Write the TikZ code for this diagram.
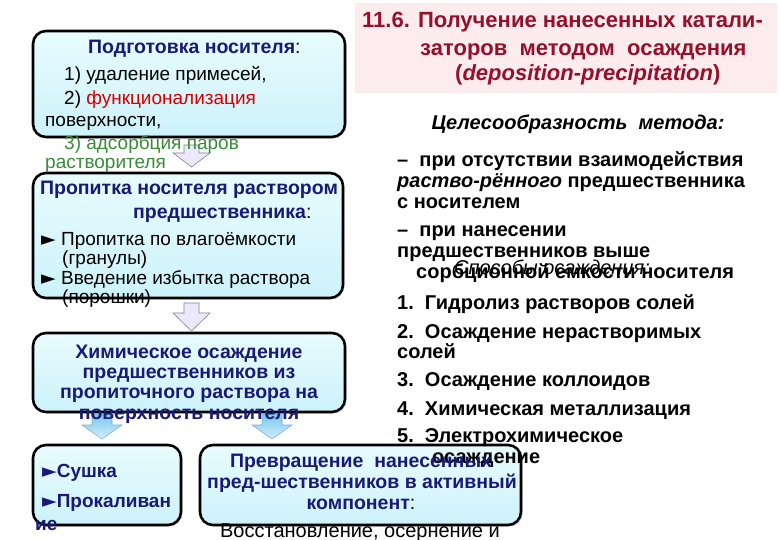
\documentclass[tikz,border=0pt]{standalone}
\usepackage{fontspec}
\setmainfont{Liberation Sans}
\usetikzlibrary{shadows}
\definecolor{navy}{RGB}{26,26,118}
\definecolor{titlered}{RGB}{150,16,44}
\definecolor{funcred}{RGB}{214,0,0}
\definecolor{adsgreen}{RGB}{56,140,56}
\definecolor{boxtop}{RGB}{232,252,254}
\definecolor{boxbot}{RGB}{204,242,250}
\definecolor{titlebg}{RGB}{253,236,237}
\definecolor{lav}{RGB}{236,232,250}
\definecolor{lavline}{RGB}{130,130,160}
\definecolor{bluetop}{RGB}{120,200,236}
\definecolor{bluebot}{RGB}{210,238,250}
\newfontfamily\symfont{DejaVu Sans}
\newcommand{\mkarrow}[7]{%
  \path[#7] (#1-#5,#2) -- (#1+#5,#2) -- (#1+#5,#3) -- (#1+#6,#3) -- (#1,#4)
     -- (#1-#6,#3) -- (#1-#5,#3) -- cycle;}
\newcommand{\bul}{{\symfont\fontsize{19}{20}\selectfont ►}}
\begin{document}
\begin{tikzpicture}[x=1pt,y=-1pt,
  box/.style={draw=black, line width=2.6pt, rounded corners=13pt,
     top color=boxtop, bottom color=boxbot, inner sep=0pt,
     drop shadow={opacity=0.25, shadow xshift=1.5pt, shadow yshift=-1.5pt}},
  lt/.style={anchor=base west, inner sep=0pt, font=\fontsize{19}{22}\selectfont},
  hd/.style={anchor=base, inner sep=0pt, text=navy, font=\fontsize{19.5}{22}\bfseries},
  hdw/.style={anchor=base west, inner sep=0pt, text=navy, font=\fontsize{19.5}{22}\bfseries},
  rt/.style={anchor=base west, inner sep=0pt, font=\fontsize{20}{23}\bfseries},
  tt/.style={anchor=base west, inner sep=0pt, text=titlered, font=\fontsize{22}{26}\bfseries},
  parr/.style={fill=lav, draw=lavline, line width=0.6pt},
  barr/.style={top color=bluetop, bottom color=bluebot, draw=bluetop!70!gray, line width=0.6pt}]
\useasboundingbox (0,0) rectangle (780,540);
\fill[white] (0,0) rectangle (780,540);

% title background
\node[fill=titlebg, minimum width=422pt, minimum height=90pt, inner sep=0pt] (tbg) at (566,48) {};

% boxes
\node[box, minimum width=312pt, minimum height=106pt] (b1) at (189,84) {};
\node[box, minimum width=310pt, minimum height=125pt] (b2) at (188,235.5) {};
\node[box, minimum width=312pt, minimum height=79pt] (b3) at (189,372.5) {};
\node[box, minimum width=148pt, minimum height=80pt] (b4) at (107,485) {};
\node[box, minimum width=321pt, minimum height=80pt] (b5) at (360.5,485) {};

% block arrows
\mkarrow{191.5}{145}{153}{167}{7.5}{18.5}{parr}
\mkarrow{191.5}{303}{313}{331}{7.5}{18.5}{parr}
\mkarrow{102}{414}{425}{439}{10}{20}{barr}
\mkarrow{272}{414}{425}{439}{10}{20}{barr}

% title
\node[tt] (t1) at (362,28) {11.6. Получение нанесенных катали-};
\node[tt] (t2) at (420,56) {заторов~~методом~~осаждения};
\node[tt] (t3) at (455,81) {(\textit{deposition-precipitation})};

% box 1
\node[hdw] (b1h) at (88,54) {Подготовка носителя\textcolor{black}{\mdseries:}};
\node[lt] (b1a) at (64,81) {1) удаление примесей,};
\node[lt] (b1b) at (64,105) {2) \textcolor{funcred}{функционализация}};
\node[lt] (b1c) at (45,127) {поверхности,};
\node[lt, text=adsgreen] (b1d) at (64,150) {3) адсорбция паров};
\node[lt, text=adsgreen] (b1e) at (45,169) {растворителя};

% box 2
\node[hd] (b2h) at (189,195) {Пропитка носителя раствором};
\node[hdw] (b2h2) at (133,219) {предшественника\textcolor{black}{\mdseries:}};
\node[lt] (b2a) at (41,246) {\bul\ Пропитка по влагоёмкости};
\node[lt] (b2b) at (62,265) {(гранулы)};
\node[lt] (b2c) at (41,285) {\bul\ Введение избытка раствора};
\node[lt] (b2d) at (62,304) {(порошки)};

% box 3
\node[hd] (b3a) at (189,359) {Химическое осаждение};
\node[hd] (b3b) at (189,379) {предшественников из};
\node[hd] (b3c) at (189,399) {пропиточного раствора на};
\node[hd] (b3d) at (189,419) {поверхность носителя};

% box 4
\node[hdw, font=\fontsize{19}{22}\bfseries] (b4a) at (42,477) {\bul Сушка};
\node[hdw, font=\fontsize{19}{22}\bfseries] (b4b) at (42,507) {\bul Прокаливан};
\node[hdw, font=\fontsize{19}{22}\bfseries] (b4c) at (35,530) {ие};

% right column
\node[rt, anchor=base] (r0) at (578,130) {\textit{Целесообразность~~метода:}};
\node[rt] (r1) at (397,167) {–~~при отсутствии взаимодействия};
\node[rt] (r2) at (397,188) {\textit{раство-рённого} предшественника};
\node[rt] (r3) at (397,209) {с носителем};
\node[rt] (r4) at (397,237) {–~~при нанесении};
\node[rt] (r5) at (397,258) {предшественников выше};
\node[rt] (r6) at (416,279) {сорбционной емкости носителя};
\node[rt, anchor=base, font=\fontsize{20}{23}\itshape] (r6b) at (552,275) {Способы осаждения:};
\node[rt] (r7) at (397,310) {1.~~Гидролиз растворов солей};
\node[rt] (r8) at (397,338) {2.~~Осаждение нерастворимых};
\node[rt] (r9) at (397,359) {солей};
\node[rt] (r10) at (397,387) {3.~~Осаждение коллоидов};
\node[rt] (r11) at (397,415) {4.~~Химическая металлизация};
\node[rt] (r12) at (397,442) {5.~~Электрохимическое};
\node[rt] (r13) at (432,463) {осаждение};

% box 5
\node[hd] (b5a) at (361,467) {Превращение~~нанесенных};
\node[hd] (b5b) at (362,488) {пред-шественников в активный};
\node[hd] (b5c) at (361,509) {компонент\textcolor{black}{\mdseries:}};
\node[rt, anchor=base] (b5d) at (360,537) {\mdseries Восстановление, осернение и};
\end{tikzpicture}
\end{document}
